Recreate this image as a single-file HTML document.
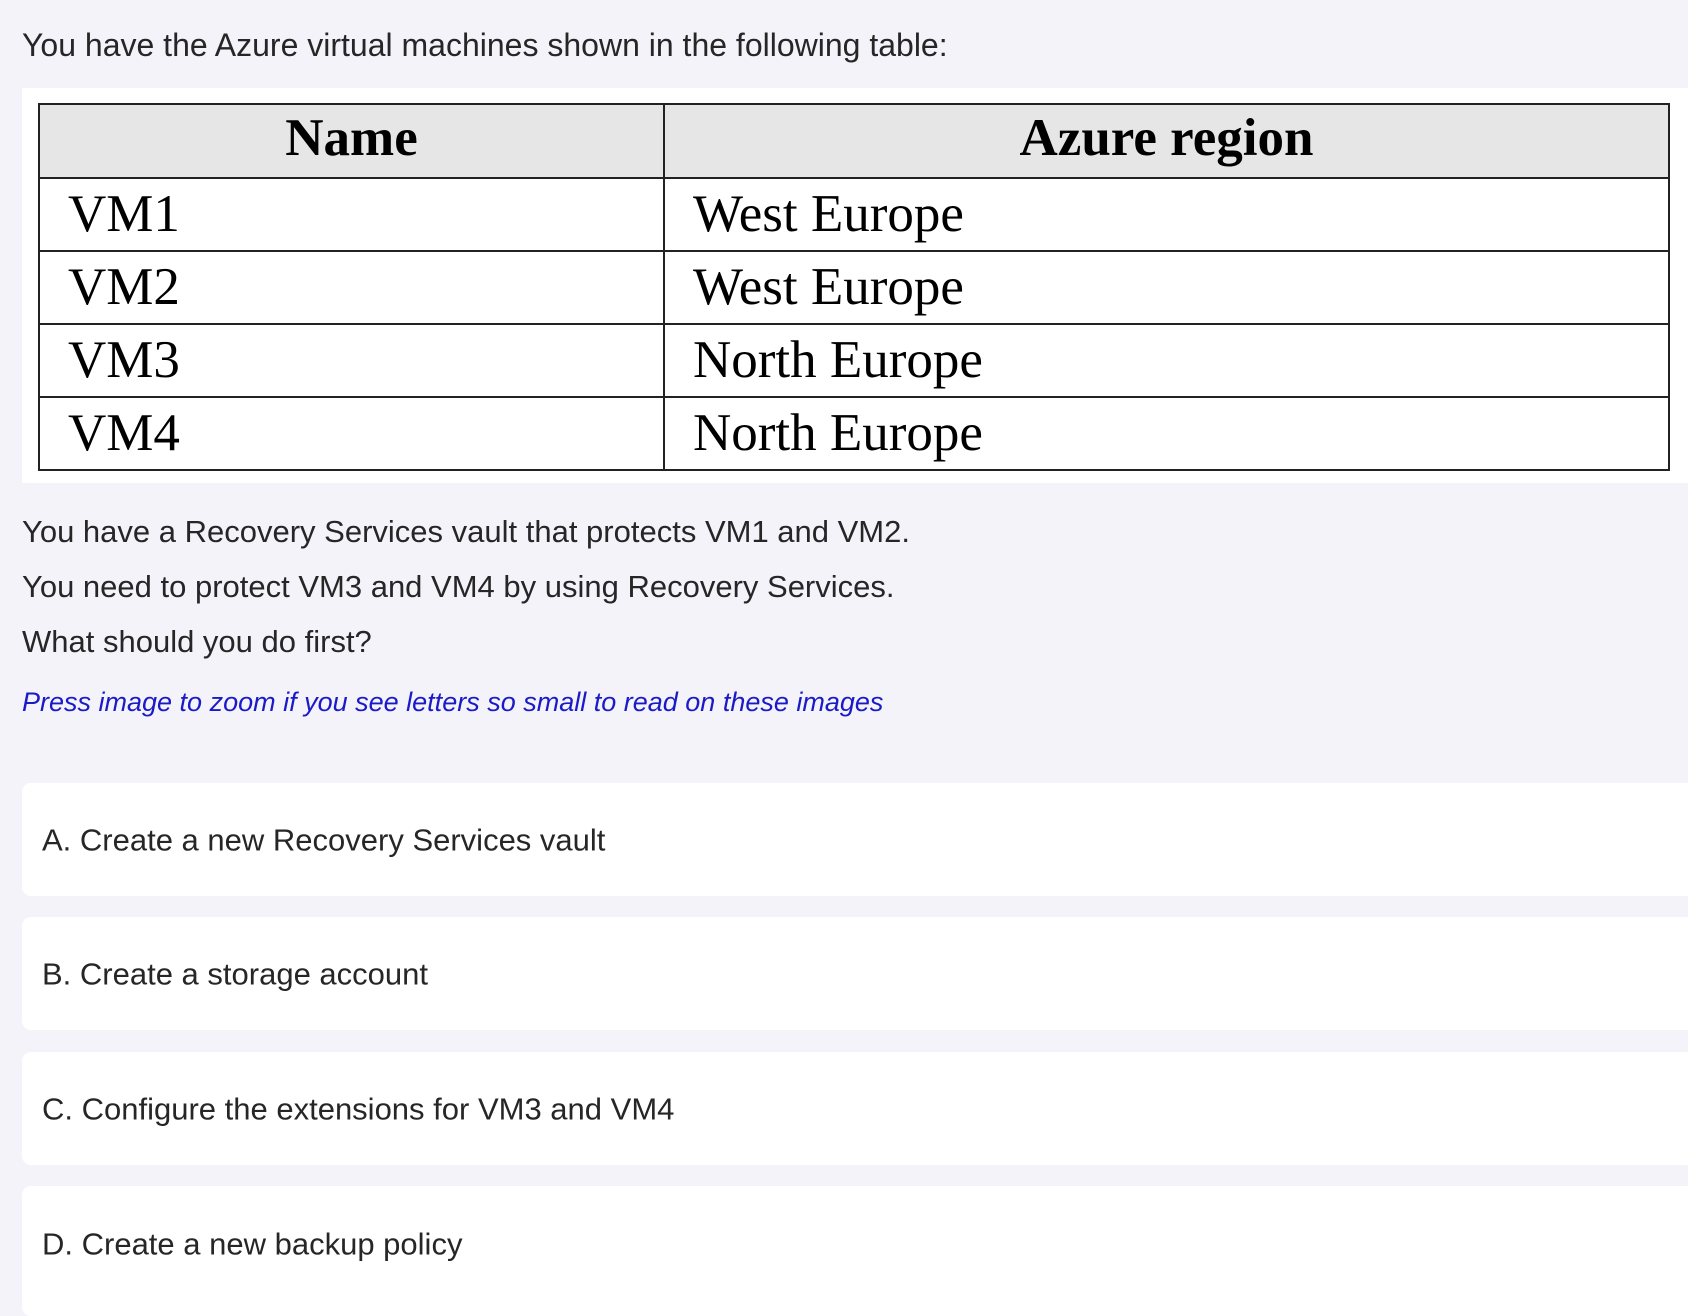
<!DOCTYPE html>
<html><head><meta charset="utf-8"><style>
body{margin:0;width:1688px;height:1301px;background:#f3f3f9;font-family:"Liberation Sans",sans-serif;color:#262626;position:relative;overflow:hidden}
.t{position:absolute;left:22px;font-size:31px;white-space:nowrap;line-height:1}
.box{position:absolute;left:22px;width:1680px;background:#fff;border-radius:9px}
.opt{position:absolute;left:20px;font-size:31px;line-height:1;top:50%;transform:translateY(-50%)}
table{position:absolute;left:38px;top:103px;width:1632px;border-collapse:collapse;font-family:"Liberation Serif",serif;color:#000;table-layout:fixed}
td,th{border:2px solid #222;padding:0;height:71px;font-size:53px;line-height:1}
th{background:#e6e6e6;font-weight:bold;height:66px;font-size:53px;padding-bottom:6px}
td{padding-left:28px}
</style></head><body>
<div class="t" style="top:29px;font-size:32px">You have the Azure virtual machines shown in the following table:</div>
<div style="position:absolute;left:22px;top:88px;width:1666px;height:395px;background:#fff"></div>
<table>
<colgroup><col style="width:625px"><col></colgroup>
<tr><th>Name</th><th>Azure region</th></tr>
<tr><td>VM1</td><td>West Europe</td></tr>
<tr><td>VM2</td><td>West Europe</td></tr>
<tr><td>VM3</td><td>North Europe</td></tr>
<tr><td>VM4</td><td>North Europe</td></tr>
</table>
<div class="t" style="top:516px">You have a Recovery Services vault that protects VM1 and VM2.</div>
<div class="t" style="top:571px">You need to protect VM3 and VM4 by using Recovery Services.</div>
<div class="t" style="top:626px">What should you do first?</div>
<div class="t" style="top:689px;font-style:italic;color:#1a1ac8;font-size:27px">Press image to zoom if you see letters so small to read on these images</div>
<div class="box" style="top:783px;height:113px"><div class="opt">A. Create a new Recovery Services vault</div></div>
<div class="box" style="top:917px;height:113px"><div class="opt">B. Create a storage account</div></div>
<div class="box" style="top:1052px;height:113px"><div class="opt">C. Configure the extensions for VM3 and VM4</div></div>
<div class="box" style="top:1186px;height:130px"><div class="opt" style="top:58px">D. Create a new backup policy</div></div>
</body></html>
